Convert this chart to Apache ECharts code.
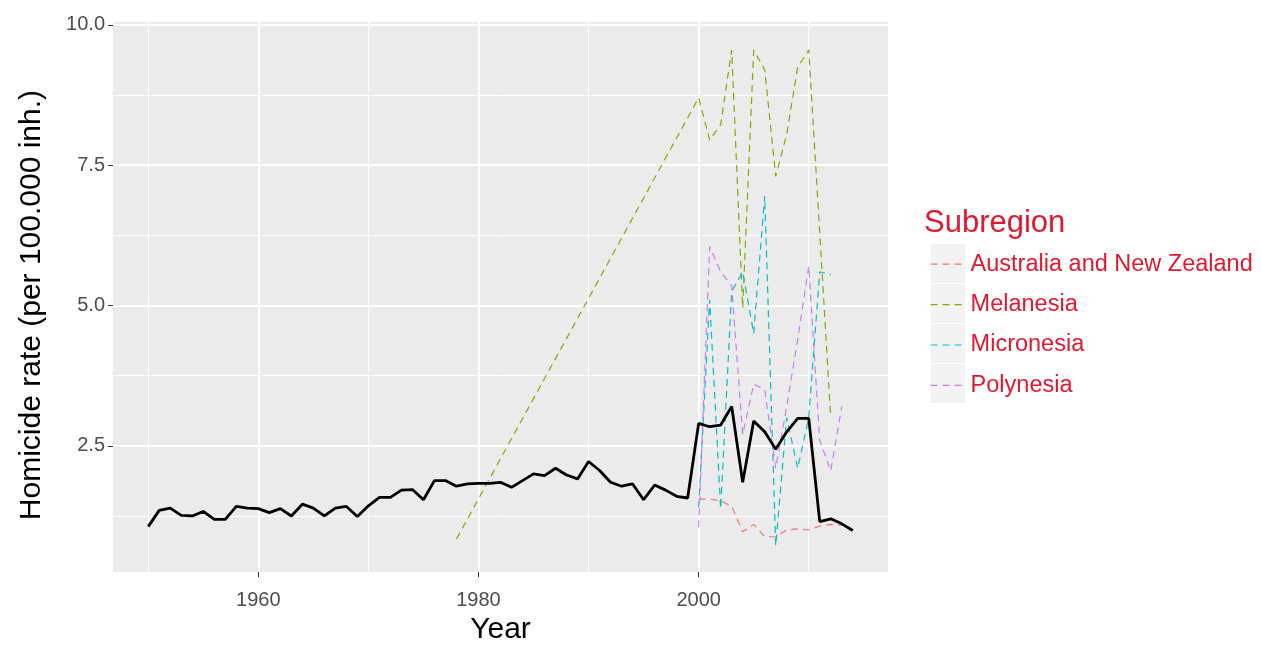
<!DOCTYPE html>
<html><head><meta charset="utf-8">
<script src="https://cdn.jsdelivr.net/npm/echarts@6/dist/echarts.min.js"></script>
<style>html,body{margin:0;padding:0;background:#fff}#c{width:1261px;height:650px}</style>
</head><body><div id="c"></div>
<script>
// ---- data ----
const totalYears = [1950,1951,1952,1953,1954,1955,1956,1957,1958,1959,1960,1961,1962,1963,1964,1965,1966,1967,1968,1969,1970,1971,1972,1973,1974,1975,1976,1977,1978,1979,1980,1981,1982,1983,1984,1985,1986,1987,1988,1989,1990,1991,1992,1993,1994,1995,1996,1997,1998,1999,2000,2001,2002,2003,2004,2005,2006,2007,2008,2009,2010,2011,2012,2013,2014];
const totalRate = [1.06,1.35,1.39,1.26,1.25,1.33,1.19,1.19,1.42,1.39,1.38,1.31,1.38,1.25,1.46,1.39,1.25,1.39,1.42,1.24,1.43,1.58,1.58,1.71,1.72,1.54,1.88,1.88,1.78,1.82,1.83,1.83,1.85,1.76,1.88,2.0,1.97,2.1,1.98,1.91,2.22,2.06,1.85,1.78,1.82,1.54,1.8,1.71,1.6,1.57,2.9,2.84,2.87,3.2,1.85,2.94,2.75,2.44,2.75,2.99,2.99,1.15,1.2,1.11,0.99];

const ausYears = [2000,2001,2002,2003,2004,2005,2006,2007,2008,2009,2010,2011,2012,2013];
const ausRate  = [1.55,1.55,1.52,1.42,0.97,1.1,0.88,0.88,1.0,1.02,1.0,1.07,1.1,1.08];

const melYears = [1978,2000,2001,2002,2003,2004,2005,2006,2007,2008,2009,2010,2011,2012];
const melRate  = [0.84,8.7,7.95,8.22,9.55,4.95,9.55,9.2,7.3,8.05,9.25,9.55,6.3,3.0];

const micYears = [2000,2001,2002,2003,2004,2005,2006,2007,2008,2009,2010,2011,2012];
const micRate  = [1.4,5.1,1.38,5.25,5.6,4.5,6.95,0.72,3.0,2.1,3.0,5.6,5.55];

const polYears = [2000,2001,2002,2003,2004,2005,2006,2007,2008,2009,2010,2011,2012,2013];
const polRate  = [1.05,6.05,5.6,5.35,2.7,3.6,3.5,2.1,3.2,4.4,5.7,2.6,2.05,3.2];

const subregions = ['Australia and New Zealand','Melanesia','Micronesia','Polynesia'];
const subColors  = ['#F8766D','#7CAE00','#00BFC4','#C77CFF'];

const yMajor = [2.5,5.0,7.5,10.0];
const yMinor = [1.25,3.75,6.25,8.75];
const xMajor = [1960,1980,2000];
const xMinor = [1950,1970,1990,2010];

const xName = 'Year';
const yName = 'Homicide rate (per 100.000 inh.)';
const legendTitle = 'Subregion';

// ---- build ----
const pairs = (xs, ys) => xs.map((x, i) => [x, ys[i]]);
const FONT = "'Liberation Sans', Arial, sans-serif";
const RED = '#E0192E';

const gridLines = [];
yMajor.forEach(v => gridLines.push({yAxis: v, lineStyle: {width: 2}}));
yMinor.forEach(v => gridLines.push({yAxis: v, lineStyle: {width: 1}}));
xMajor.forEach(v => gridLines.push({xAxis: v, lineStyle: {width: 2}}));
xMinor.forEach(v => gridLines.push({xAxis: v, lineStyle: {width: 1}}));

const subData = [pairs(ausYears, ausRate), pairs(melYears, melRate), pairs(micYears, micRate), pairs(polYears, polRate)];

const series = [{
  type: 'line', name: '_grid', data: [], silent: true, z: 1,
  markLine: {
    silent: true, symbol: ['none','none'], label: {show: false}, z: 1,
    lineStyle: {color: '#FFFFFF', type: 'solid'},
    emphasis: {disabled: true},
    animation: false,
    data: gridLines
  }
}];
subregions.forEach((name, i) => {
  series.push({
    type: 'line', name: name, data: subData[i], showSymbol: false, symbol: 'none',
    z: 3, color: subColors[i],
    lineStyle: {color: subColors[i], width: 1.2, type: [7, 5]}
  });
});
series.push({
  type: 'line', name: 'Oceania', data: pairs(totalYears, totalRate), showSymbol: false, symbol: 'none',
  z: 4, color: '#000', lineStyle: {color: '#000', width: 2.8}
});

const keyRects = subregions.map((n, i) => ({
  type: 'rect', left: 930, top: 243 + i * 40, z: 0,
  shape: {width: 35, height: 40},
  style: {fill: '#F2F2F2', stroke: '#FFFFFF', lineWidth: 1}
}));

const chart = echarts.init(document.getElementById('c'), null, {renderer: 'canvas'});
chart.setOption({
  animation: false,
  backgroundColor: '#FFFFFF',
  textStyle: {fontFamily: FONT},
  title: {
    text: legendTitle, left: 919, top: 203,
    textStyle: {color: RED, fontSize: 31, fontWeight: 'normal', fontFamily: FONT}
  },
  graphic: keyRects,
  legend: {
    data: subregions, orient: 'vertical', left: 930, top: 249, z: 5, padding: 0,
    itemWidth: 35, itemHeight: 38, itemGap: 10,
    itemStyle: {opacity: 0, borderWidth: 0},
    lineStyle: {width: 1.2},
    textStyle: {color: RED, fontSize: 23.5, fontFamily: FONT},
    selectedMode: false
  },
  grid: {
    left: 113, right: 373, top: 22, bottom: 63,
    show: true, backgroundColor: '#EBEBEB', borderWidth: 0
  },
  xAxis: {
    type: 'value', min: 1946.8, max: 2017.2,
    name: xName, nameLocation: 'middle', nameGap: 40,
    nameTextStyle: {color: '#000', fontSize: 30, fontFamily: FONT},
    axisLine: {show: false},
    axisTick: {show: true, length: 5, lineStyle: {color: '#333'}, customValues: xMajor},
    axisLabel: {color: '#4D4D4D', fontSize: 20, margin: 18, fontFamily: FONT, customValues: xMajor,
      formatter: v => String(v)},
    splitLine: {show: false}
  },
  yAxis: {
    type: 'value', min: 0.25, max: 10.05,
    name: yName, nameLocation: 'middle', nameGap: 66, nameRotate: 90,
    nameTextStyle: {color: '#000', fontSize: 30, fontFamily: FONT, padding: [0, 16, 0, 0]},
    axisLine: {show: false},
    axisTick: {show: true, length: 5, lineStyle: {color: '#333'}, customValues: yMajor},
    axisLabel: {color: '#4D4D4D', fontSize: 20, margin: 8, fontFamily: FONT, customValues: yMajor,
      formatter: v => v.toFixed(1)},
    splitLine: {show: false}
  },
  series: series
});
</script></body></html>
